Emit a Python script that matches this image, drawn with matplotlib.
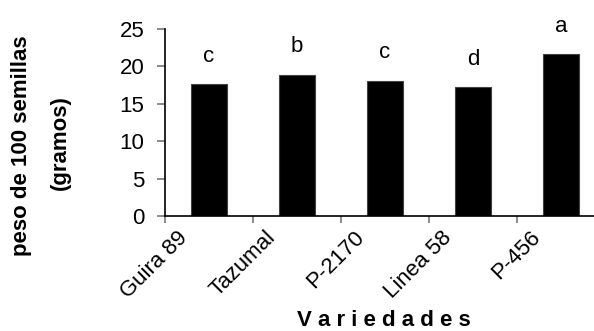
import matplotlib
matplotlib.use("Agg")
import matplotlib.pyplot as plt
import numpy as np

# data
variedades = ["Guira 89", "Tazumal", "P-2170", "Linea 58", "P-456"]
peso = [17.7, 18.8, 18.0, 17.2, 21.6]
letras = ["c", "b", "c", "d", "a"]
letra_y = [21.3, 22.6, 21.8, 20.9, 25.3]

plt.rcParams['font.family'] = ['Liberation Sans', 'DejaVu Sans']

fig = plt.figure(figsize=(5.94, 3.31), dpi=100)
ax = fig.add_axes([165/594, 115/331, 440/594, 187/331])

x = np.arange(len(variedades))
ax.bar(x, peso, width=0.42, color='black', edgecolor='#444444', linewidth=0.8)

for xi, l, ly in zip(x, letras, letra_y):
    ax.text(xi, ly, l, ha='center', va='center', fontsize=16)

ax.set_xlim(-0.5, 4.5)
ax.set_ylim(0, 25)
ax.set_yticks([0, 5, 10, 15, 20, 25])
ax.tick_params(axis='y', labelsize=16, length=6, color='#777777', width=1.2, pad=9)

# ticks at category boundaries, labels shifted left
ax.set_xticks(x - 0.5)
ax.set_xticklabels([])
ax.tick_params(axis='x', which='major', length=5, color='#777777', width=1.2)
ax.set_xticks(x - 0.36, minor=True)
ax.set_xticklabels(variedades, minor=True, rotation=45, ha='right',
                   va='top', rotation_mode='anchor', fontsize=16)
ax.tick_params(axis='x', which='minor', length=0, pad=8)

for s in ['top', 'right']:
    ax.spines[s].set_visible(False)
for s in ['left', 'bottom']:
    ax.spines[s].set_linewidth(1.2)

fig.text(22/594, 1 - 146/331, "peso de 100 semillas", rotation=90,
         ha='center', va='center', fontsize=16, fontweight='bold')
fig.text(60/594, 1 - 143/331, "(gramos)", rotation=90,
         ha='center', va='center', fontsize=16, fontweight='bold')
fig.text(384/594, 1 - 321/331, "V a r i e d a d e s", ha='center', va='center',
         fontsize=16, fontweight='bold')

fig.savefig("out.png", dpi=100)
